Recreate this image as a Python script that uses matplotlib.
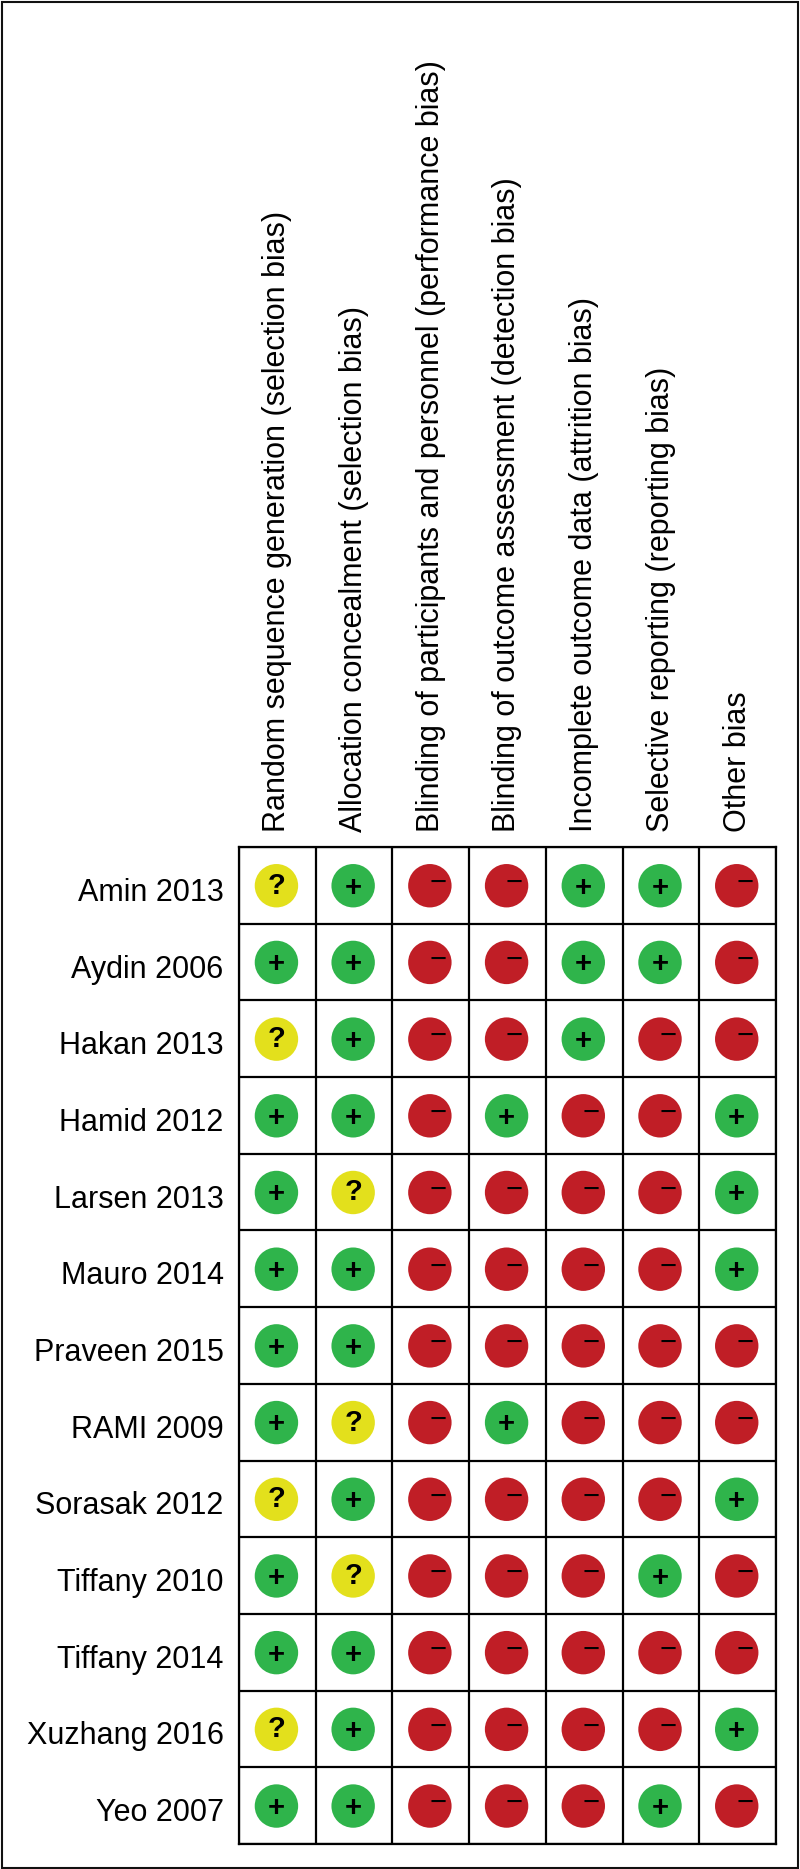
import matplotlib.pyplot as plt
from matplotlib.patches import Circle, Rectangle
from matplotlib.transforms import ScaledTranslation
import numpy as np

plt.rcParams["font.family"] = ["Liberation Sans", "DejaVu Sans"]

domains = [
    "Random sequence generation (selection bias)",
    "Allocation concealment (selection bias)",
    "Blinding of participants and personnel (performance bias)",
    "Blinding of outcome assessment (detection bias)",
    "Incomplete outcome data (attrition bias)",
    "Selective reporting (reporting bias)",
    "Other bias",
]
studies = [
    "Amin 2013", "Aydin 2006", "Hakan 2013", "Hamid 2012", "Larsen 2013",
    "Mauro 2014", "Praveen 2015", "RAMI 2009", "Sorasak 2012", "Tiffany 2010",
    "Tiffany 2014", "Xuzhang 2016", "Yeo 2007",
]
ratings = [
    "?+--++-",
    "++--++-",
    "?+--+--",
    "++-+--+",
    "+?----+",
    "++----+",
    "++-----",
    "+?-+---",
    "?+----+",
    "+?---+-",
    "++-----",
    "?+----+",
    "++---+-",
]

colors = {"+": "#2fb44b", "-": "#c01e26", "?": "#e3e01c"}
W, H = 800, 1869

fig = plt.figure(figsize=(W / 100, H / 100), dpi=100)
fig.add_artist(Rectangle((1.5 / W, 1.5 / H), 796.5 / W, 1865.5 / H, transform=fig.transFigure,
                         fill=False, edgecolor="#111111", linewidth=1.5))

ax = fig.add_axes([239 / W, 1 - 1844 / H, 537 / W, 997 / H])
ax.set_xlim(-0.5, 6.5)
ax.set_ylim(12.5, -0.5)

for i, row in enumerate(ratings):
    for j, r in enumerate(row):
        ax.add_patch(Circle((j - 0.012, i + 0.005), 0.283, facecolor=colors[r], edgecolor="none"))
        if r == "+":
            ax.text(j - 0.012, i + 0.03, "+", fontsize=21, fontweight="bold", ha="center", va="center")
        elif r == "?":
            ax.text(j - 0.012, i + 0.005, "?", fontsize=21, fontweight="bold", ha="center", va="center")
        else:
            ax.text(j + 0.09, i - 0.03, "\u2212", fontsize=21, ha="center", va="center")

ax.xaxis.tick_top()
ax.set_xticks(np.arange(7))
ax.set_xticklabels(domains, rotation=90, fontsize=22, ha="center", va="bottom")
ax.set_yticks(np.arange(13))
ax.set_yticklabels(studies, fontsize=22)
ax.tick_params(length=0, pad=11)
ax.set_xticks(np.arange(-0.5, 7), minor=True)
ax.set_yticks(np.arange(-0.5, 13), minor=True)
ax.tick_params(which="minor", length=0)
ax.grid(which="minor", color="black", linewidth=1.6)
ax.set_axisbelow(True)
for s in ax.spines.values():
    s.set_linewidth(1.6)

# study names sit a little below the circle centres
shift = ScaledTranslation(0, -4 / 100, fig.dpi_scale_trans)
for label in ax.get_yticklabels():
    label.set_transform(label.get_transform() + shift)

fig.savefig("out.png", dpi=100)
